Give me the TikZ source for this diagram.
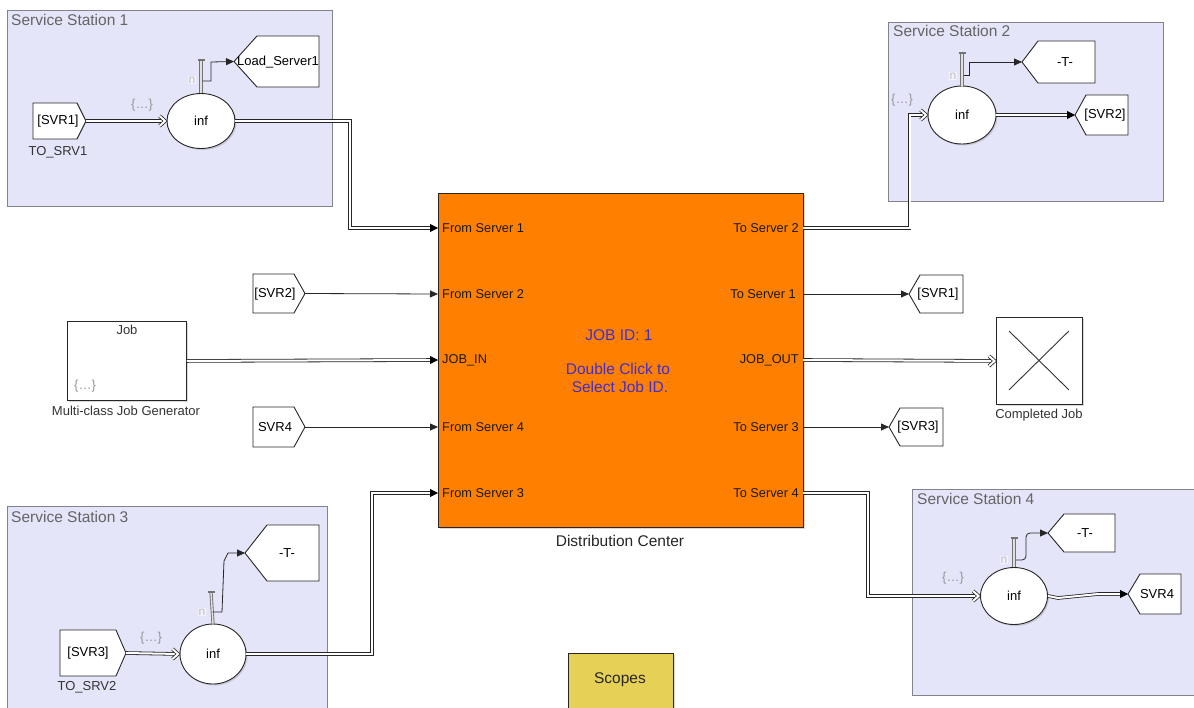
\documentclass[tikz,border=0pt]{standalone}
\usepackage{fontspec}
\setmainfont{Liberation Sans}
\usetikzlibrary{arrows.meta,shapes.geometric,shadows,calc}
\definecolor{lav}{RGB}{229,229,250}
\definecolor{stnb}{RGB}{130,130,140}
\definecolor{dcor}{RGB}{255,128,0}
\definecolor{scopey}{RGB}{230,208,86}
\definecolor{bluet}{RGB}{65,45,205}
\definecolor{tgray}{RGB}{100,100,100}
\definecolor{dotg}{RGB}{150,150,150}
\newcommand{\fromtag}[6]{%
  \draw[tagb] (#2,#3) -- (#4-#6,#3) -- (#4,{(#3+#5)/2}) -- (#4-#6,#5) -- (#2,#5) -- cycle;
  \coordinate (#1) at (#4,{(#3+#5)/2});}
\newcommand{\gototag}[6]{%
  \draw[tagb] (#2,{(#3+#5)/2}) -- (#2+#6,#3) -- (#4,#3) -- (#4,#5) -- (#2+#6,#5) -- cycle;
  \coordinate (#1) at (#2,{(#3+#5)/2});}
\newcommand{\chevtip}[1]{\draw[ent, line join=miter] ($(#1)+(-7,-5)$) -- ($(#1)+(-1.5,0)$) -- ($(#1)+(-7,5)$);}
\newcommand{\ftip}[1]{\draw[tipF] ($(#1)+(-8,0)$) -- (#1);}
\begin{document}
\begin{tikzpicture}[x=1pt,y=-1pt,
  stn/.style={draw=stnb, fill=lav, line width=0.8pt, inner sep=0pt},
  blk/.style={draw=black!85, fill=white, line width=0.9pt, inner sep=0pt,
     drop shadow={shadow xshift=1.5pt,shadow yshift=-1.5pt,opacity=0.3}},
  ell/.style={blk, ellipse, minimum width=68pt, minimum height=55pt, font=\fontsize{13}{15}\selectfont},
  tagb/.style={draw=black!85, fill=white, line width=0.9pt, line join=miter},
  ent/.style={draw=black!85, double=white, double distance=2pt, line width=0.8pt},
  sig/.style={draw=black!85, line width=0.8pt, -{Triangle[length=8pt,width=7pt]}},
  tipF/.style={draw=black, line width=0.8pt, -{Triangle[length=8pt,width=8pt]}},
  nport/.style={draw=black!55, double=black!12, double distance=1.4pt, line width=0.9pt},
  ncap/.style={draw=black!55, line width=1.2pt},
  lbl/.style={font=\fontsize{13}{15}\selectfont, inner sep=0pt},
  port/.style={font=\fontsize{12.8}{15}\selectfont, inner sep=0pt, text=black!90},
  bigt/.style={font=\fontsize{15.5}{18}\selectfont, inner sep=0pt},
  nlab/.style={font=\fontsize{12}{14}\selectfont, inner sep=1pt, text=black!25, fill=white!50!lav},
  dots/.style={font=\fontsize{13}{15}\selectfont, inner sep=0pt, text=dotg}]
\useasboundingbox (0,0) rectangle (1194,707);
\fill[white] (0,0) rectangle (1194,707);

% ---------- service station frames ----------
\node[stn, anchor=north west, minimum width=325pt, minimum height=196pt] (S1) at (7,10) {};
\node[stn, anchor=north west, minimum width=275pt, minimum height=179pt] (S2) at (888,22) {};
\node[stn, anchor=north west, minimum width=320pt, minimum height=210pt] (S3) at (7,506) {};
\node[stn, anchor=north west, minimum width=290pt, minimum height=206pt] (S4) at (912,489) {};
\node[bigt, text=tgray, anchor=west] (S1t) at (11,20) {Service Station 1};
\node[bigt, text=tgray, anchor=west] (S2t) at (893,31) {Service Station 2};
\node[bigt, text=tgray, anchor=west] (S3t) at (11,517) {Service Station 3};
\node[bigt, text=tgray, anchor=west] (S4t) at (917,499) {Service Station 4};

% ---------- distribution center ----------
\node[blk, fill=dcor, anchor=north west, minimum width=365pt, minimum height=334pt] (dc) at (438,193) {};
\coordinate (dcI1) at (438,228); \coordinate (dcI2) at (438,294); \coordinate (dcI3) at (438,360);
\coordinate (dcI4) at (438,427); \coordinate (dcI5) at (438,493);
\coordinate (dcO1) at (803,228); \coordinate (dcO2) at (803,294); \coordinate (dcO3) at (803,360);
\coordinate (dcO4) at (803,427); \coordinate (dcO5) at (803,493);
\node[port, anchor=west] (pi1) at (442,228) {From Server 1};
\node[port, anchor=west] (pi2) at (442,294) {From Server 2};
\node[port, anchor=west] (pi3) at (442,360) {JOB\_IN};
\node[port, anchor=west] (pi4) at (442,427) {From Server 4};
\node[port, anchor=west] (pi5) at (442,493) {From Server 3};
\node[port, anchor=east] (po1) at (799,228) {To Server 2};
\node[port, anchor=east] (po2) at (796,294) {To Server 1};
\node[port, anchor=east] (po3) at (799,360) {JOB\_OUT};
\node[port, anchor=east] (po4) at (799,427) {To Server 3};
\node[port, anchor=east] (po5) at (799,493) {To Server 4};
\node[bigt, text=bluet] (jid) at (619,335) {JOB ID: 1};
\node[bigt, text=bluet] (dbl) at (618,369) {Double Click to};
\node[bigt, text=bluet] (sel) at (620,387) {Select Job ID.};
\node[bigt, text=black!85] (dcl) at (620,541) {Distribution Center};

% ---------- station 1 ----------
\fromtag{f1}{33}{103}{86}{139}{9}
\node[lbl] (f1t) at (58,121) {[SVR1]};
\node[lbl, text=black!80] (f1c) at (58,152) {TO\_SRV1};
\node[ell] (e1) at (201,121) {inf};
\node[dots] (d1) at (142,105) {\{…\}};
\gototag{g1}{234}{36}{319}{87}{23}
\node[lbl] (g1t) at (278,62) {Load\_Server1};
\node[nlab] (n1l) at (192,80) {n};
\draw[nport] (e1.north) -- (201,60);
\draw[ncap] (197.5,60) -- (204.5,60);
\coordinate (n1) at (202.5,81);
\draw[sig] (n1) -- (211,81) -- (211,62) -- (g1);
\draw[ent, shorten >=2pt] (f1) -- (e1.west);
\chevtip{e1.west}
\draw[ent, shorten >=6pt] (e1.east) -| ($(dcI1)+(-88,0)$) -- (dcI1);
\ftip{dcI1}

% ---------- station 2 ----------
\node[ell, minimum height=58pt] (e2) at (962,115) {inf};
\node[dots] (d2) at (902,100) {\{…\}};
\gototag{g2a}{1022}{41}{1095}{83}{16}
\node[lbl] (g2at) at (1065,62) {-T-};
\gototag{g2b}{1075}{95}{1128}{135}{11}
\node[lbl] (g2bt) at (1105,115) {[SVR2]};
\node[nlab] (n2l) at (953,76) {n};
\draw[nport] (e2.north) -- (962,53);
\draw[ncap] (958.5,53) -- (965.5,53);
\coordinate (n2) at (963.5,75);
\draw[sig] (n2) -- (969,75) -- (969,62) -- (g2a);
\draw[ent, shorten >=6pt] (e2.east) -- (g2b);
\ftip{g2b}
\draw[ent, shorten >=2pt] (dcO1) -| ($(e2.west)+(-18,0)$) -- (e2.west);
\chevtip{e2.west}

% ---------- right side tags ----------
\gototag{t1}{909}{275}{963}{313}{11}
\node[lbl] (t1t) at (938,294) {[SVR1]};
\draw[sig] (dcO2) -- (t1);
\gototag{t3}{889}{408}{943}{446}{11}
\node[lbl] (t3t) at (918,427) {[SVR3]};
\draw[sig] (dcO4) -- (t3);
\node[blk, anchor=north west, minimum width=86pt, minimum height=87pt] (cj) at (996,317) {};
\draw[black!80, line width=0.9pt] ($(cj.north west)+(13,14)$) -- ($(cj.south east)+(-14,-15)$);
\draw[black!80, line width=0.9pt] ($(cj.north east)+(-14,14)$) -- ($(cj.south west)+(13,-15)$);
\node[lbl, text=black!80] (cjl) at (1039,415) {Completed Job};
\draw[ent, shorten >=2pt] (dcO3) -- (cj.west);
\chevtip{cj.west}

% ---------- left side ----------
\fromtag{s2}{253}{274}{305}{313}{11}
\node[lbl] (s2t) at (275,294) {[SVR2]};
\draw[sig] (s2) -- (dcI2);
\fromtag{s4}{253}{407}{305}{447}{11}
\node[lbl] (s4t) at (275,427) {SVR4};
\draw[sig] (s4) -- (dcI4);
\node[blk, anchor=north west, minimum width=119pt, minimum height=79pt] (job) at (67,321) {};
\node[lbl, text=black!80] (jobt) at (127,330) {Job};
\node[dots] (dj) at (85,386) {\{…\}};
\node[lbl, text=black!80] (jobl) at (126,411) {Multi-class Job Generator};
\draw[ent, shorten >=6pt] (job.east) -- (dcI3);
\ftip{dcI3}

% ---------- station 3 ----------
\fromtag{f3}{60}{630}{126}{676}{10}
\node[lbl] (f3t) at (88,653) {[SVR3]};
\node[lbl, text=black!80] (f3c) at (87,687) {TO\_SRV2};
\node[ell, minimum width=66pt, minimum height=60pt] (e3) at (213,654) {inf};
\node[dots] (d3) at (151,638) {\{…\}};
\gototag{g3}{245}{525}{319}{581}{22}
\node[lbl] (g3t) at (287,553) {-T-};
\node[nlab] (n3l) at (202,612) {n};
\draw[nport] (e3.north) -- (211,592);
\draw[ncap] (207.5,592) -- (214.5,592);
\coordinate (n3) at (212.5,612);
\draw[sig] (n3) -- (222,612) -- (224,561) -- (228,553) -- (g3);
\draw[ent, shorten >=2pt] (f3) -- (e3.west);
\chevtip{e3.west}
\draw[ent, shorten >=6pt] (e3.east) -| ($(dcI5)+(-66,0)$) -- (dcI5);
\ftip{dcI5}

% ---------- station 4 ----------
\node[ell, minimum width=67pt, minimum height=57pt] (e4) at (1014,596) {inf};
\node[dots] (d4) at (953,578) {\{…\}};
\gototag{g4a}{1048}{514}{1115}{552}{16}
\node[lbl] (g4at) at (1085,533) {-T-};
\gototag{g4b}{1128}{574}{1181}{614}{12}
\node[lbl] (g4bt) at (1157,594) {SVR4};
\node[nlab] (n4l) at (1004,560) {n};
\draw[nport] (e4.north) -- (1014,538);
\draw[ncap] (1010.5,538) -- (1017.5,538);
\coordinate (n4) at (1015.5,560);
\draw[sig, rounded corners=4pt] (n4) -- (1026,560) -- (1026,533) -- (g4a);
\draw[ent, shorten >=6pt] (e4.east) -- (1058,598) -- (1098,594) -- (g4b);
\ftip{g4b}
\draw[ent, shorten >=2pt] (dcO5) -| ($(e4.west)+(-112,0)$) -- (e4.west);
\chevtip{e4.west}

% ---------- scopes ----------
\node[blk, fill=scopey, anchor=north west, minimum width=105pt, minimum height=62pt] (sc) at (568,653) {};
\node[bigt, text=black!85] (sct) at (620,680) {Scopes};
\end{tikzpicture}
\end{document}
